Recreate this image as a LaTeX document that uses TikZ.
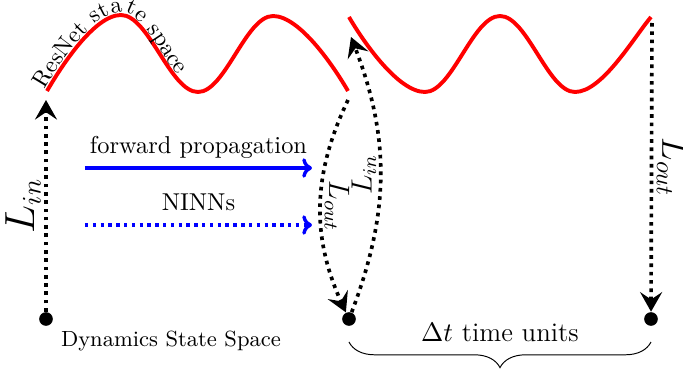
\documentclass[tikz,border=0pt]{standalone}
\usepackage{tikz}
\usetikzlibrary{arrows.meta,decorations.pathreplacing,decorations.text}

\begin{document}
\begin{tikzpicture}[x=0.41pt,y=0.41pt,
    redcurve/.style={red, line width=1.6pt, looseness=0.65},
    dotarrow/.style={line width=1.5pt, dash pattern=on 1.5pt off 1.9pt, -{Stealth[length=8pt,width=9pt,inset=3pt]}},
    bluearrow/.style={blue, line width=1.4pt, -{To[length=4pt,width=8pt]}},
    lbl/.style={midway, above, sloped, allow upside down, inner sep=1.5pt},
    dot/.style={circle, fill, inner sep=0pt, minimum size=5.6pt}]
    \useasboundingbox (0,0) rectangle (683,-373);

    % State points
    \node[dot] (d1) at (46,-319) {};
    \node[dot] (d2) at (349,-319) {};
    \node[dot] (d3) at (651,-319) {};
    \node[font=\small] (dss) at (171,-341) {Dynamics State Space};

    % ResNet state space curves
    \coordinate (ra) at (47,-91);
    \coordinate (rb) at (348,-91);
    \coordinate (rc) at (349,-17);
    \coordinate (rd) at (651,-17);
    \draw[redcurve, postaction={decorate, decoration={text along path, text={|\fontsize{9.6}{11}\selectfont|ResNet state space}, raise=1.2pt}}]
        (ra) to[out=60,in=180] (121,-15) to[out=0,in=180] (198,-92)
        to[out=0,in=180] (273,-16) to[out=0,in=120] (rb);
    \draw[redcurve] (rc) to[out=-60,in=180] (425,-92) to[out=0,in=180] (500,-16)
        to[out=0,in=180] (575,-92) to[out=0,in=230] (rd);

    % Lifting and projection
    \coordinate (lintop) at (46,-100);
    \coordinate (loutmid) at (348,-100);
    \coordinate (linmid) at (351,-37);
    \coordinate (louttop) at (652,-23);
    \draw[dotarrow] (d1) -- (lintop) node[lbl] {\fontsize{16}{18}\selectfont $L_{in}$};
    \draw[dotarrow] (loutmid) to[bend right=25] node[lbl, inner sep=1pt] {\large $L_{out}$} (d2);
    \draw[dotarrow] (d2) to[bend right=21] node[lbl, inner sep=1pt] {\large $L_{in}$} (linmid);
    \draw[dotarrow] (louttop) -- (d3) node[lbl] {\Large $L_{out}$};

    % Forward propagation and NINNs
    \coordinate (fa) at (85,-168);
    \coordinate (fb) at (312,-168);
    \coordinate (na) at (85,-225);
    \coordinate (nb) at (312,-225);
    \draw[bluearrow] (fa) -- (fb) node[midway, above, black] {forward propagation};
    \draw[bluearrow, dash pattern=on 1.4pt off 1.8pt] (na) -- (nb) node[midway, above=2pt, black] {NINNs};

    % Time step brace
    \coordinate (b1) at (349,-342);
    \coordinate (b2) at (651,-342);
    \draw[decorate, decoration={brace, mirror, amplitude=10.5pt}] (b1) -- (b2);
    \node[font=\fontsize{11}{13}\selectfont] (dt) at (500,-333) {$\Delta t$ time units};
\end{tikzpicture}
\end{document}
